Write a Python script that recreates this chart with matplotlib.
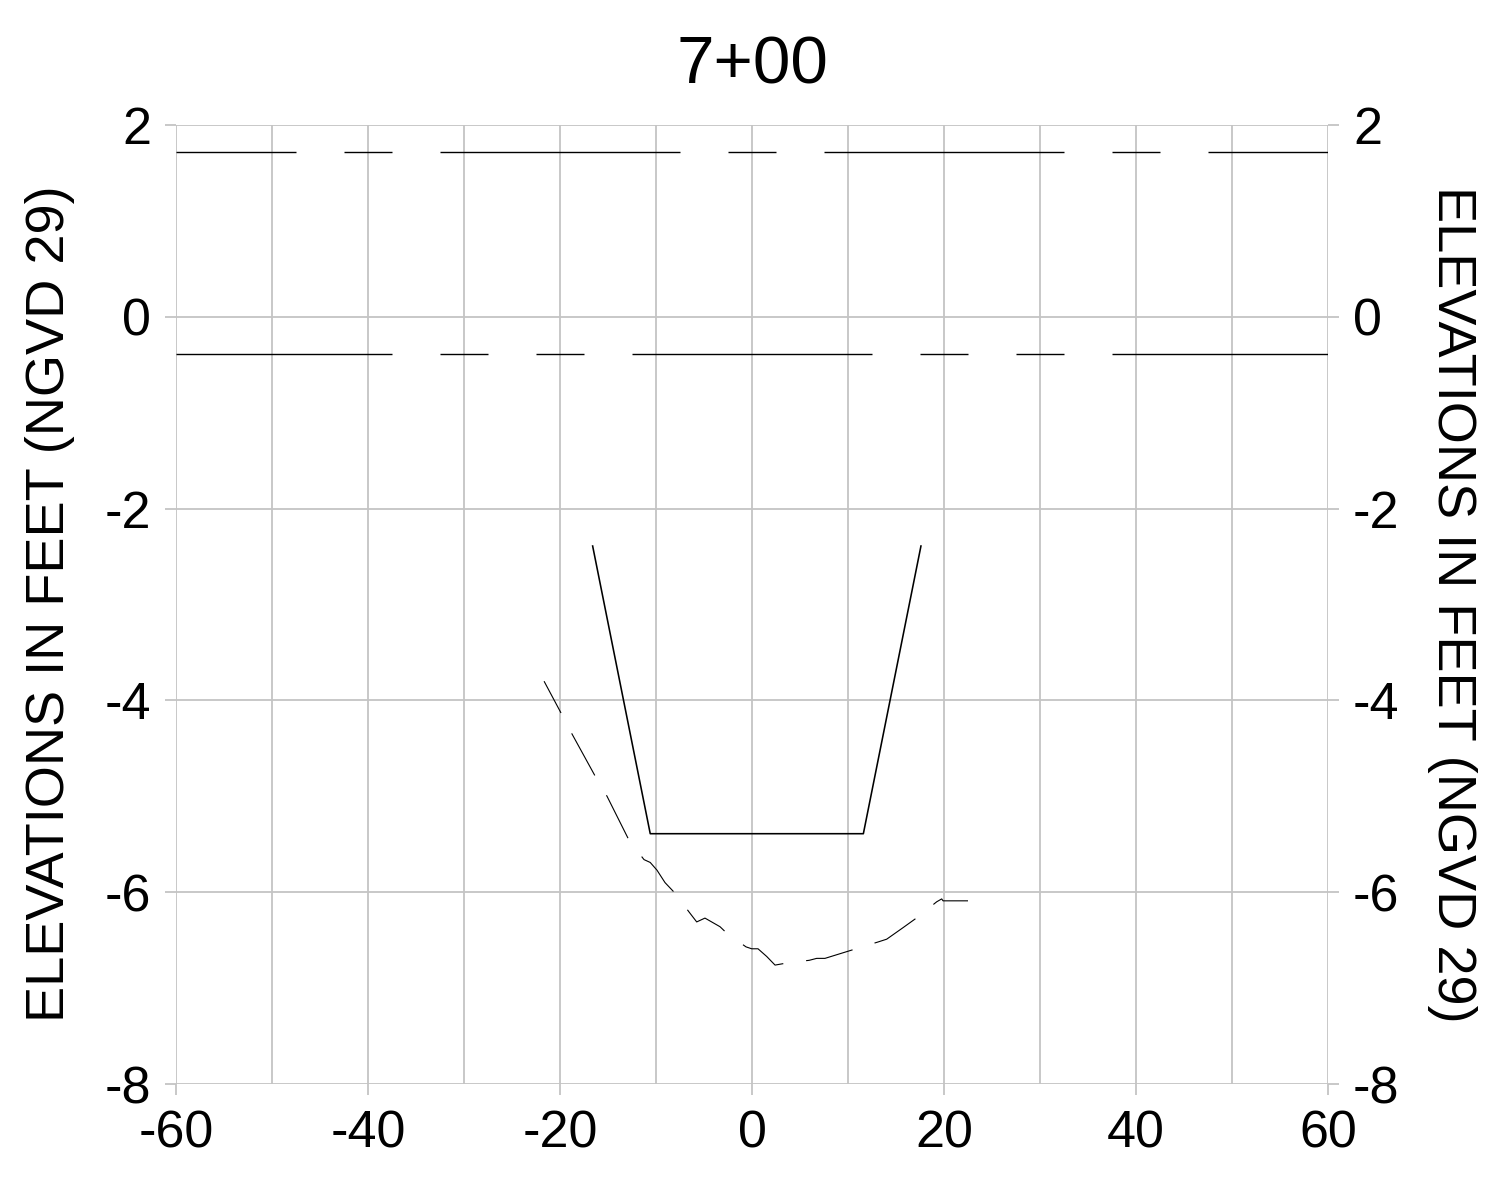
import matplotlib
matplotlib.use("Agg")
import matplotlib.pyplot as plt
import numpy as np

plt.rcParams['font.family'] = ['Liberation Sans', 'DejaVu Sans']
plt.rcParams['lines.scale_dashes'] = False
plt.rcParams['axes.unicode_minus'] = False

title = "7+00"
ylabel = "ELEVATIONS IN FEET (NGVD 29)"

# Horizontal reference elevations
upper_level = 1.72
lower_level = -0.39

# Design channel template
design_x = [-16.6, -10.6, 11.6, 17.6]
design_y = [-2.39, -5.39, -5.39, -2.39]

# Existing ground profile
ground_x = [-21.66, -19.9, -18.75, -16.28, -15.1, -12.8, -11.25, -10.6, -9.9, -9.06,
            -8.02, -6.53, -5.76, -4.9, -3.33, -2.6, -0.625, -0.03, 0.625, 1.53,
            2.4, 3.54, 5.97, 6.74, 7.6, 9.86, 10.83, 13.1, 14.03, 15.73,
            17.26, 19.24, 19.76, 19.9, 22.5]
ground_y = [-3.80, -4.13, -4.35, -4.80, -5.00, -5.46, -5.66, -5.69, -5.77, -5.90,
            -6.01, -6.21, -6.31, -6.27, -6.36, -6.43, -6.57, -6.59, -6.59, -6.67,
            -6.76, -6.74, -6.71, -6.69, -6.69, -6.62, -6.59, -6.52, -6.49, -6.37,
            -6.26, -6.10, -6.07, -6.09, -6.09]

xlim = (-60, 60)
ylim = (-8, 2)
xticks = [-60, -40, -20, 0, 20, 40, 60]
xgrid = list(range(-60, 61, 10))
yticks = [-8, -6, -4, -2, 0, 2]

W, H, DPI = 1503, 1183, 100
fig = plt.figure(figsize=(W / DPI, H / DPI), dpi=DPI)
ax = fig.add_axes([176 / W, 1 - 1084 / H, (1328 - 176) / W, (1084 - 125) / H])

px = 100 / 72.0  # pixels per point

gridc = '#c4c4c4'
for gx in xgrid:
    ax.axvline(gx, color=gridc, lw=1.3, zorder=1)
for gy in yticks:
    ax.axhline(gy, color=gridc, lw=1.3, zorder=1)

long_ = 240 / px
short_ = 48 / px
ax.plot(xlim, [upper_level] * 2, color='black', lw=1.0, zorder=3,
        linestyle=(120 / px, (long_, short_, short_, short_)))
ax.plot(xlim, [lower_level] * 2, color='black', lw=1.0, zorder=3,
        linestyle=(24 / px, (long_, short_, short_, short_, short_, short_)))

ax.plot(design_x, design_y, color='black', lw=1.15, zorder=3)
ax.plot(ground_x, ground_y, color='black', lw=0.8, zorder=3,
        linestyle=(12 / px, (48 / px, 23 / px)))

ax.set_xlim(*xlim)
ax.set_ylim(*ylim)
ax.set_xticks(xticks)
ax.set_yticks(yticks)
for s in ax.spines.values():
    s.set_visible(False)
ax.tick_params(axis='both', direction='out', length=8, width=1.3, color=gridc,
               labelsize=37.5, pad=10)
ax.tick_params(axis='y', left=True, right=True, labelleft=True, labelright=True)

fig.text(752 / W, 1 - 67 / H, title, ha='center', va='center', fontsize=48.5)
fig.text(50 / W, 1 - 604 / H, ylabel, ha='center', va='center', rotation=90, fontsize=39)
fig.text(1452 / W, 1 - 604 / H, ylabel, ha='center', va='center', rotation=270, fontsize=39)

fig.savefig("out.png", dpi=DPI)
